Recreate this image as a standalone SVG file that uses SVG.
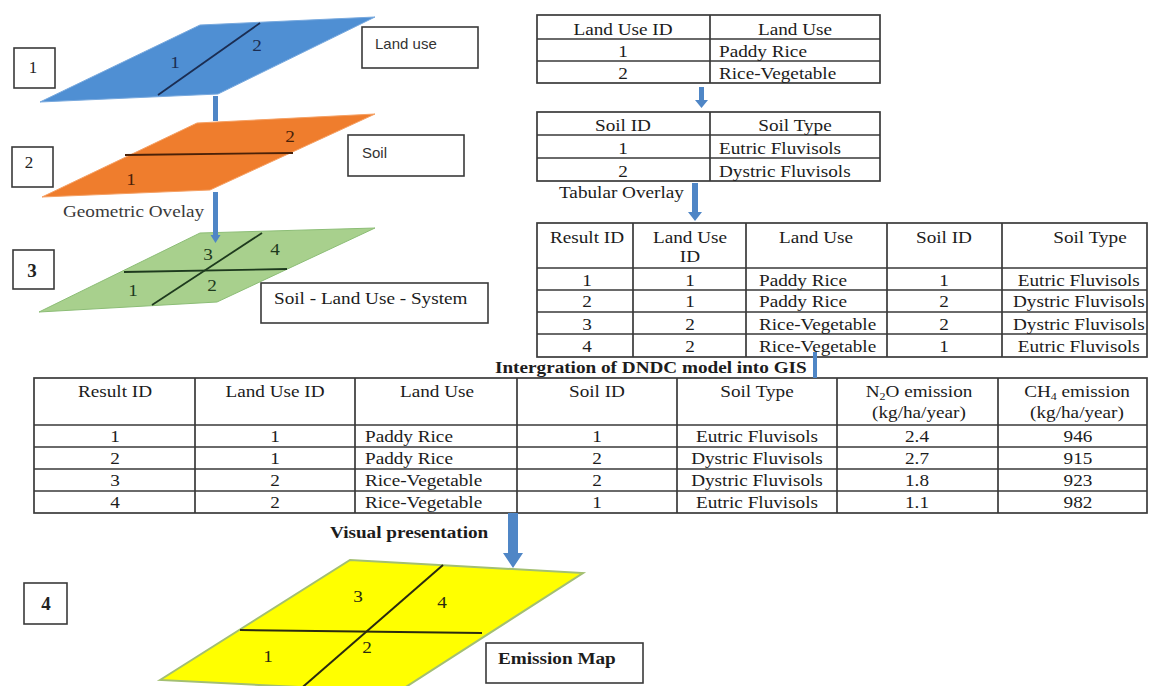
<svg xmlns="http://www.w3.org/2000/svg" width="1149" height="686" viewBox="0 0 1149 686">
<style>
.t{font-family:"Liberation Serif","Times New Roman",serif;font-size:16px;fill:#1c1c1c}
.c{text-anchor:middle}
.b{font-weight:bold}
.s{font-family:"Liberation Sans",Arial,sans-serif;font-size:15px;fill:#333}
.num{font-family:"Liberation Serif","Times New Roman",serif;font-size:17px;fill:#222;text-anchor:middle}
.box{fill:#fff;stroke:#3a3a3a;stroke-width:1.6}
.grid{fill:none;stroke:#3a3a3a;stroke-width:1.7}
.arr{fill:#4f86c6}
.lbl{font-family:"Liberation Serif","Times New Roman",serif;font-size:16px;text-anchor:middle}
</style>
<rect width="1149" height="686" fill="#fff"/>

<g id="layer-landuse">
<polygon points="40,102 200,25 375,17 218,94" fill="#4f8fd3" stroke="#78a9de" stroke-width="1"/>
<line x1="260" y1="23" x2="158" y2="95" stroke="#1b2d52" stroke-width="1.8"/>
<g transform="scale(1.2 1)" fill="#1b2d52"><text class="lbl" x="145.83" y="68">1</text><text class="lbl" x="214.17" y="51">2</text></g>
</g>
<g id="layer-soil">
<polygon points="42,197 197,123 375,114 210,190" fill="#ef7d2d" stroke="#f5a064" stroke-width="1"/>
<line x1="125" y1="155" x2="293" y2="153" stroke="#4a2108" stroke-width="1.8"/>
<g transform="scale(1.2 1)" fill="#4a2108"><text class="lbl" x="241.67" y="142">2</text><text class="lbl" x="109.17" y="185">1</text></g>
</g>
<g id="layer-system">
<polygon points="39,312 200,233 375,228 217,302" fill="#a8d08d" stroke="#8cbd76" stroke-width="1"/>
<line x1="124" y1="272" x2="287" y2="269" stroke="#1e3a1e" stroke-width="1.8"/>
<line x1="262" y1="233" x2="152" y2="305" stroke="#1e3a1e" stroke-width="1.8"/>
<g transform="scale(1.2 1)" fill="#1e3a1e"><text class="lbl" x="173.33" y="260">3</text><text class="lbl" x="229.17" y="255">4</text><text class="lbl" x="110.83" y="296">1</text><text class="lbl" x="176.67" y="291">2</text></g>
</g>
<g id="layer-emission">
<polygon points="160,680 350,560 583,573 398,692" fill="#ffff00" stroke="#a3bf72" stroke-width="2"/>
<line x1="240" y1="630" x2="482" y2="633" stroke="#2a2a10" stroke-width="2"/>
<line x1="443" y1="565" x2="297" y2="692" stroke="#2a2a10" stroke-width="2"/>
<g transform="scale(1.2 1)" fill="#2a2a10"><text class="lbl" x="298.33" y="602">3</text><text class="lbl" x="368.33" y="608">4</text><text class="lbl" x="223.33" y="662">1</text><text class="lbl" x="305.83" y="653">2</text></g>
</g>

<g id="step-1"><rect x="14" y="48" width="41" height="40" class="box"/><text class="num" x="33" y="73">1</text></g>
<g id="step-2"><rect x="12" y="147" width="41" height="40" class="box"/><text class="num" x="29" y="168">2</text></g>
<g id="step-3"><rect x="13" y="250" width="41" height="39" class="box"/><text class="num b" x="32" y="277" style="font-size:19px">3</text></g>
<g id="step-4"><rect x="24" y="583" width="43" height="41" class="box"/><text class="num b" x="46" y="610" style="font-size:19px">4</text></g>

<g id="label-landuse"><rect x="362" y="27" width="116" height="41" class="box"/><text class="s" x="375" y="49">Land use</text></g>
<g id="label-soil"><rect x="348" y="135" width="116" height="41" class="box"/><text class="s" x="362" y="158">Soil</text></g>
<g id="label-system"><rect x="261" y="283" width="227" height="40" class="box"/><g transform="scale(1.2 1)"><text class="t" x="228.33" y="304">Soil - Land Use - System</text></g></g>
<g id="label-emission"><rect x="486" y="643" width="157" height="40" class="box"/><g transform="scale(1.2 1)"><text class="t b" x="415" y="664">Emission Map</text></g></g>

<g id="captions" transform="scale(1.2 1)">
<text class="t" x="52.5" y="217" style="fill:#3a3a3a">Geometric Ovelay</text>
<text class="t" x="465.83" y="198">Tabular Overlay</text>
<text class="t b" x="412.5" y="373">Intergration of DNDC model into GIS</text>
<text class="t b" x="275" y="538">Visual presentation</text>
</g>

<g id="table-landuse">
<rect x="537" y="15" width="343" height="68" class="grid"/>
<path d="M710 15V83M537 39H880M537 61H880" class="grid"/>
<g transform="scale(1.2 1)">
<text class="t c" x="519.17" y="35">Land Use ID</text><text class="t c" x="662.5" y="35">Land Use</text>
<text class="t c" x="519.17" y="57">1</text><text class="t" x="599.17" y="57">Paddy Rice</text>
<text class="t c" x="519.17" y="79">2</text><text class="t" x="599.17" y="79">Rice-Vegetable</text>
</g>
</g>

<g id="table-soil">
<rect x="537" y="112" width="343" height="69" class="grid"/>
<path d="M710 112V181M537 135H880M537 158H880" class="grid"/>
<g transform="scale(1.2 1)">
<text class="t c" x="519.17" y="131">Soil ID</text><text class="t c" x="662.5" y="131">Soil Type</text>
<text class="t c" x="519.17" y="154">1</text><text class="t" x="599.17" y="154">Eutric Fluvisols</text>
<text class="t c" x="519.17" y="177">2</text><text class="t" x="599.17" y="177">Dystric Fluvisols</text>
</g>
</g>

<g id="table-overlay">
<rect x="537" y="223" width="610" height="134" class="grid"/>
<path d="M633 223V357M746 223V357M887 223V357M1002 223V357M537 268H1147M537 290H1147M537 312H1147M537 334H1147" class="grid"/>
<g transform="scale(1.2 1)">
<text class="t c" x="489.17" y="243">Result ID</text><text class="t c" x="575" y="243">Land Use</text><text class="t c" x="575" y="262">ID</text>
<text class="t c" x="680" y="243">Land Use</text><text class="t c" x="786.67" y="243">Soil ID</text><text class="t c" x="908.33" y="243">Soil Type</text>
<text class="t c" x="489.17" y="286">1</text><text class="t c" x="575" y="286">1</text><text class="t" x="632.5" y="286">Paddy Rice</text><text class="t c" x="786.67" y="286">1</text><text class="t c" x="899" y="286">Eutric Fluvisols</text>
<text class="t c" x="489.17" y="307">2</text><text class="t c" x="575" y="307">1</text><text class="t" x="632.5" y="307">Paddy Rice</text><text class="t c" x="786.67" y="307">2</text><text class="t c" x="899" y="307">Dystric Fluvisols</text>
<text class="t c" x="489.17" y="330">3</text><text class="t c" x="575" y="330">2</text><text class="t" x="632.5" y="330">Rice-Vegetable</text><text class="t c" x="786.67" y="330">2</text><text class="t c" x="899" y="330">Dystric Fluvisols</text>
<text class="t c" x="489.17" y="352">4</text><text class="t c" x="575" y="352">2</text><text class="t" x="632.5" y="352">Rice-Vegetable</text><text class="t c" x="786.67" y="352">1</text><text class="t c" x="899" y="352">Eutric Fluvisols</text>
</g>
</g>

<g id="table-dndc">
<rect x="34" y="378" width="1113" height="135" class="grid"/>
<path d="M195 378V513M355 378V513M517 378V513M677 378V513M837 378V513M998 378V513M34 425H1147M34 447H1147M34 469H1147M34 491H1147" class="grid"/>
<g transform="scale(1.2 1)">
<text class="t c" x="95.83" y="397">Result ID</text><text class="t c" x="229.17" y="397">Land Use ID</text><text class="t c" x="364.17" y="397">Land Use</text>
<text class="t c" x="497.5" y="397">Soil ID</text><text class="t c" x="630.83" y="397">Soil Type</text>
<text class="t c" x="765.83" y="397">N<tspan font-size="10" dy="3">2</tspan><tspan dy="-3">O emission</tspan></text><text class="t c" x="765.83" y="418">(kg/ha/year)</text>
<text class="t c" x="897.5" y="397">CH<tspan font-size="10" dy="3">4</tspan><tspan dy="-3"> emission</tspan></text><text class="t c" x="897.5" y="418">(kg/ha/year)</text>
<text class="t c" x="95.83" y="442">1</text><text class="t c" x="229.17" y="442">1</text><text class="t" x="304.17" y="442">Paddy Rice</text><text class="t c" x="497.5" y="442">1</text><text class="t c" x="630.83" y="442">Eutric Fluvisols</text><text class="t c" x="764.17" y="442">2.4</text><text class="t c" x="898.33" y="442">946</text>
<text class="t c" x="95.83" y="464">2</text><text class="t c" x="229.17" y="464">1</text><text class="t" x="304.17" y="464">Paddy Rice</text><text class="t c" x="497.5" y="464">2</text><text class="t c" x="630.83" y="464">Dystric Fluvisols</text><text class="t c" x="764.17" y="464">2.7</text><text class="t c" x="898.33" y="464">915</text>
<text class="t c" x="95.83" y="486">3</text><text class="t c" x="229.17" y="486">2</text><text class="t" x="304.17" y="486">Rice-Vegetable</text><text class="t c" x="497.5" y="486">2</text><text class="t c" x="630.83" y="486">Dystric Fluvisols</text><text class="t c" x="764.17" y="486">1.8</text><text class="t c" x="898.33" y="486">923</text>
<text class="t c" x="95.83" y="508">4</text><text class="t c" x="229.17" y="508">2</text><text class="t" x="304.17" y="508">Rice-Vegetable</text><text class="t c" x="497.5" y="508">1</text><text class="t c" x="630.83" y="508">Eutric Fluvisols</text><text class="t c" x="764.17" y="508">1.1</text><text class="t c" x="898.33" y="508">982</text>
</g>
</g>

<g id="connectors">
<rect x="213" y="96" width="5" height="25" class="arr"/>
<path d="M213 192H218V235H220.5L215.5 243L210.5 235H213Z" class="arr"/>
<path d="M699 87H704V100H708L701.5 108L695 100H699Z" class="arr"/>
<path d="M692 183H698V212H702L695 221L688 212H692Z" class="arr"/>
<rect x="813" y="352" width="4" height="26" class="arr"/>
<path d="M508 513H518V553H523L513 568L503 553H508Z" class="arr"/>
</g>
</svg>
